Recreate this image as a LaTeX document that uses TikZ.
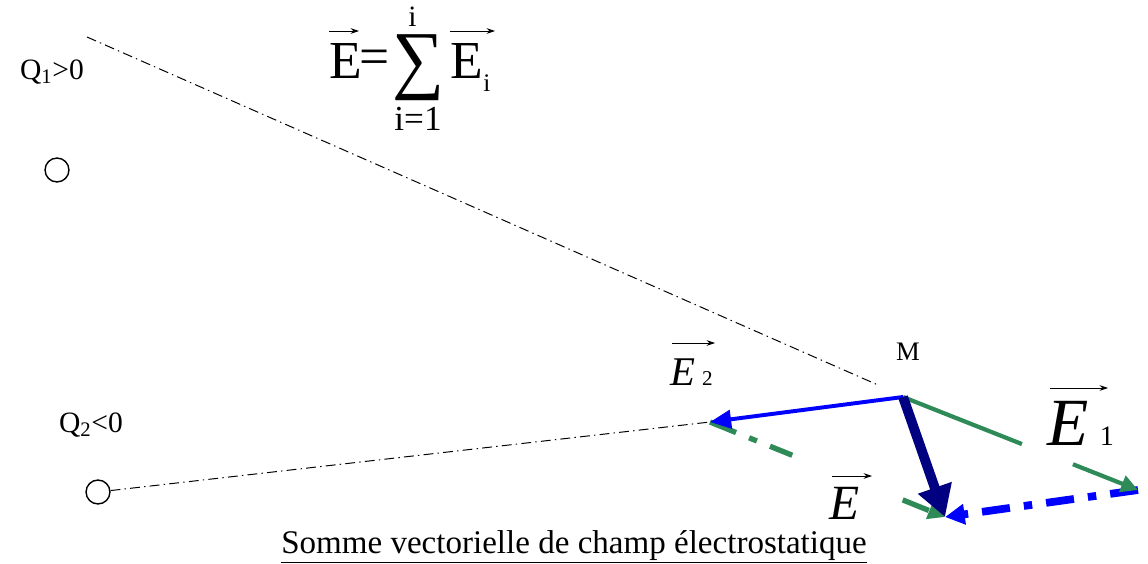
\documentclass[tikz,border=0pt]{standalone}
\usepackage{fontspec}
\setmainfont{Liberation Serif}
\usetikzlibrary{arrows.meta,calc}
\definecolor{egreen}{RGB}{46,139,87}
\definecolor{eblue}{RGB}{0,0,255}
\definecolor{enavy}{RGB}{0,0,128}
\newcommand{\fs}[1]{\fontsize{#1}{#1}\selectfont}
\begin{document}
\begin{tikzpicture}[x=0.025cm,y=-0.025cm,
  guide/.style={black, line width=0.7pt, dash pattern=on 7pt off 3pt on 1pt off 3pt},
  charge/.style={circle, draw, line width=1pt, minimum size=17pt, inner sep=0pt},
  lbl/.style={inner sep=0pt},
  baselbl/.style={inner sep=0pt, anchor=base west},
  overarrow/.style={black, line width=0.6pt, -{Stealth[length=6pt,width=4pt]}},
  vecE2/.style={eblue, line width=2.8pt, -{Triangle[length=15pt,width=13pt]}},
  vecE1/.style={egreen, line width=3pt},
  vecE/.style={enavy, line width=7pt, -{Triangle[length=22pt,width=24pt]}},
  tranE1/.style={egreen, line width=3.8pt, dash pattern=on 20pt off 10pt on 6pt off 10pt},
  tranE2/.style={eblue, line width=5.5pt, dash pattern=on 20pt off 10pt on 6pt off 10pt}]
\useasboundingbox (0,0) rectangle (1148,564);

% charges
\node[charge] (Q1) at (57,170) {};
\node[charge] (Q2) at (98,492) {};
\node[lbl] (Q1lab) at (52,72) {\fs{21}Q\textsubscript{1}>0};
\node[lbl] (Q2lab) at (91,425) {\fs{21}Q\textsubscript{2}<0};

% formula
\node[baselbl] (FE) at (329,79) {\fs{38}E};
\node[lbl] (Feq) at (375,62) {\fs{38}=};
\node[lbl] (Fsum) at (418,68) {\resizebox*{1.3cm}{1.65cm}{\fs{40}∑}};
\node[baselbl] (Ftop) at (408,27) {\fs{21}i};
\node[lbl] (Fbot) at (418,119) {\fs{25}i=1};
\node[baselbl] (FEi) at (450,79) {\fs{38}E};
\node[baselbl] (Fi) at (483,92) {\fs{18}i};
\draw[overarrow] (329,31) -- (359,31);
\draw[overarrow] (450,31) -- (495,31);

% points
\coordinate (M0) at (903,397);
\coordinate (g1s) at (87,37);
\coordinate (g1e) at (878,385);
\coordinate (E2tip) at (710,422);
\coordinate (E1tip) at (1138,490);
\coordinate (Etip) at (945,517);

\node[lbl] (Mlab) at (908,352) {\fs{19}M};

% guide lines
\draw[guide] (g1s) -- (g1e);
\draw[guide] (Q2) -- (E2tip);

% translated vectors
\draw[tranE1] (E2tip) -- ($(E2tip)!0.35!(Etip)$);
\draw[tranE1, -{Triangle[length=12pt,width=12pt]}] ($(E2tip)!0.82!(Etip)$) -- (Etip);
\draw[tranE2, -{Triangle[length=14pt,width=14pt]}] (E1tip) -- (Etip);

% field vectors
\draw[vecE2] (M0) -- (E2tip);
\draw[vecE1] (M0) -- ($(M0)!0.506!(E1tip)$);
\draw[vecE1, -{Triangle[length=12pt,width=12pt]}] ($(M0)!0.723!(E1tip)$) -- (E1tip);
\draw[vecE] (M0) -- (Etip);

% vector labels
\node[baselbl] (E2lab) at (670,385) {\fs{29}\itshape E\,\upshape\fs{15}2};
\draw[overarrow] (672,343) -- (715,343);
\node[baselbl] (E1lab) at (1047,445) {\fs{48}\itshape E\,\upshape\fs{20}1};
\draw[overarrow] (1050,388) -- (1108,388);
\node[baselbl] (Elab) at (829,519) {\fs{35}\itshape E};
\draw[overarrow] (832,476) -- (872,476);

% caption
\node[lbl] (caption) at (574,547) {\fs{23.5}\underline{Somme vectorielle de champ électrostatique}};
\end{tikzpicture}
\end{document}
